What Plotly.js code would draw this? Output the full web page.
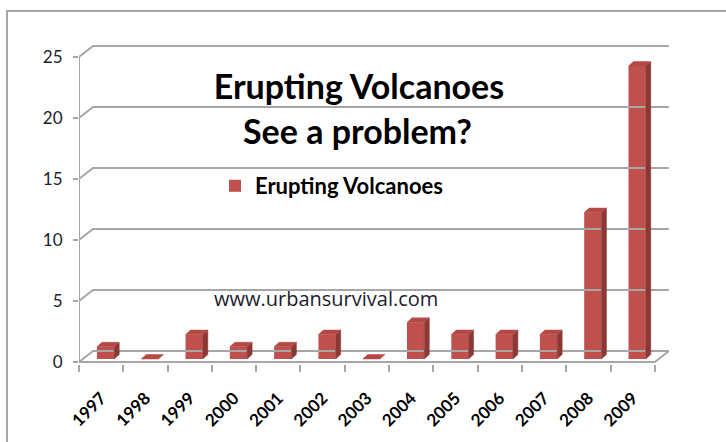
<!DOCTYPE html>
<html>
<head>
<meta charset="utf-8">
<script src="https://cdn.plot.ly/plotly-3.0.1.min.js"></script>
<style>
  html, body { margin: 0; padding: 0; background: #fff; }
  #chart { width: 726px; height: 442px; }
</style>
</head>
<body>
<div id="chart"></div>
<script>
// ---- data ----
const categories = ['1997','1998','1999','2000','2001','2002','2003','2004','2005','2006','2007','2008','2009'];
const volcanoes  = [1, 0, 2, 1, 1, 2, 0, 3, 2, 2, 2, 12, 24];
const yTicks     = [0, 5, 10, 15, 20, 25];
const seriesName = 'Erupting Volcanoes';
const titleLines = ['Erupting Volcanoes', 'See a problem?'];
const watermark  = 'www.urbansurvival.com';

// ---- styling / 3-D geometry (in axis units) ----
const RED = '#C0504D', RED_SIDE = '#8C3835', RED_TOP = '#B44845';
const GRID = '#A6A6A6';
const wallDX = 0.316, wallDY = 0.9;     // depth offset of the back wall
const barShift = 0.10, barW = 0.39, barBase = 0.25;
const barDX = 0.113, barDY = 0.37;      // depth of each bar

const idx = categories.map((c, i) => i);
const n = categories.length;

// frame: back-wall gridlines + diagonals, left axis, floor
const fx = [], fy = [];
yTicks.forEach(v => {
  fx.push(-0.5, -0.5 + wallDX, n - 0.5 + wallDX, null);
  fy.push(v, v + wallDY, v + wallDY, null);
});
fx.push(-0.5, -0.5, null);
fy.push(0, yTicks[yTicks.length - 1], null);
fx.push(-0.5, n - 0.5, n - 0.5 + wallDX, null);
fy.push(0, 0, wallDY, null);

// bar side and top faces, derived from the data
const sx = [], sy = [], tx = [], ty = [];
volcanoes.forEach((v, i) => {
  const x0 = i + barShift - barW / 2, x1 = i + barShift + barW / 2;
  const top = v + barBase;
  if (v > 0) {
    sx.push(x1, x1, x1 + barDX, x1 + barDX, x1, null);
    sy.push(barBase, top, top + barDY, barBase + barDY, barBase, null);
  }
  tx.push(x0, x1, x1 + barDX, x0 + barDX, x0, null);
  ty.push(top, top, top + barDY, top + barDY, top, null);
});

const traces = [
  { x: fx, y: fy, type: 'scatter', mode: 'lines', line: { color: GRID, width: 2 },
    hoverinfo: 'skip', showlegend: false },
  { x: idx.map(i => i + barShift), y: volcanoes, base: barBase, width: barW, type: 'bar',
    name: seriesName, marker: { color: RED, line: { width: 0 } } },
  { x: sx, y: sy, type: 'scatter', mode: 'lines', fill: 'toself', fillcolor: RED_SIDE,
    line: { width: 0.5, color: RED_SIDE }, hoverinfo: 'skip', showlegend: false },
  { x: tx, y: ty, type: 'scatter', mode: 'lines', fill: 'toself', fillcolor: RED_TOP,
    line: { width: 0.5, color: RED_TOP }, hoverinfo: 'skip', showlegend: false }
];

const L = 79, R = 49, T = 40, B = 78;
const PW = 726 - L - R, PH = 442 - T - B;
const px = p => (p - L) / PW;          // pixel -> paper helpers for text placement
const py = p => (442 - B - p) / PH;

const layout = {
  width: 726, height: 442,
  margin: { l: L, r: R, t: T, b: B, pad: 0 },
  paper_bgcolor: '#fff', plot_bgcolor: 'rgba(0,0,0,0)',
  font: { family: 'Lato, "Open Sans", sans-serif', color: '#000' },
  title: {
    text: '<b>' + titleLines[0] + '</b>',
    font: { family: 'Lato', size: 34, color: '#000' },
    xref: 'container', x: 359 / 726, xanchor: 'center',
    yref: 'container', y: 1 - 87 / 442, yanchor: 'middle'
  },
  xaxis: {
    range: [-0.5, 13.0], showgrid: false, zeroline: false, showline: false,
    tickmode: 'array', tickvals: idx, ticktext: categories, tickangle: -45,
    ticks: '', ticklabelstandoff: 20,
    tickfont: { family: 'Lato', size: 17, color: '#000', weight: 'bold' },
    minor: { tickmode: 'array', tickvals: idx.concat([n]).map(i => i - 0.5),
             ticks: 'outside', ticklen: 7, tickwidth: 2, tickcolor: GRID, showgrid: false },
    fixedrange: true
  },
  yaxis: {
    range: [-0.16, 26.39], showgrid: false, zeroline: false, showline: false,
    tickmode: 'array', tickvals: yTicks, ticks: 'outside', ticklen: 5, tickwidth: 2,
    tickcolor: GRID, ticklabelstandoff: 7,
    tickfont: { family: 'Lato', size: 17, color: '#1c1c2c' },
    fixedrange: true
  },
  showlegend: true,
  legend: {
    x: px(215), y: py(165), xanchor: 'left', yanchor: 'top',
    bgcolor: 'rgba(0,0,0,0)', font: { family: 'Lato', size: 22, color: '#000', weight: 'bold' }
  },
  annotations: [
    {
      text: '<b>' + titleLines[1] + '</b>', xref: 'paper', yref: 'paper', showarrow: false,
      x: px(357), y: py(130), xanchor: 'center', yanchor: 'middle',
      font: { family: 'Lato', size: 34, color: '#000' }
    },
    {
      text: watermark, xref: 'paper', yref: 'paper', showarrow: false,
      x: px(326), y: py(298), xanchor: 'center', yanchor: 'middle',
      font: { family: '"Open Sans"', size: 20, color: '#1c1c2c' }
    }
  ],
  shapes: [{
    type: 'rect', xref: 'paper', yref: 'paper', layer: 'below',
    x0: px(7), x1: px(732), y0: py(448), y1: py(11),
    line: { color: GRID, width: 2 }
  }]
};

Plotly.newPlot('chart', traces, layout, { displayModeBar: false, staticPlot: true });
</script>
</body>
</html>
